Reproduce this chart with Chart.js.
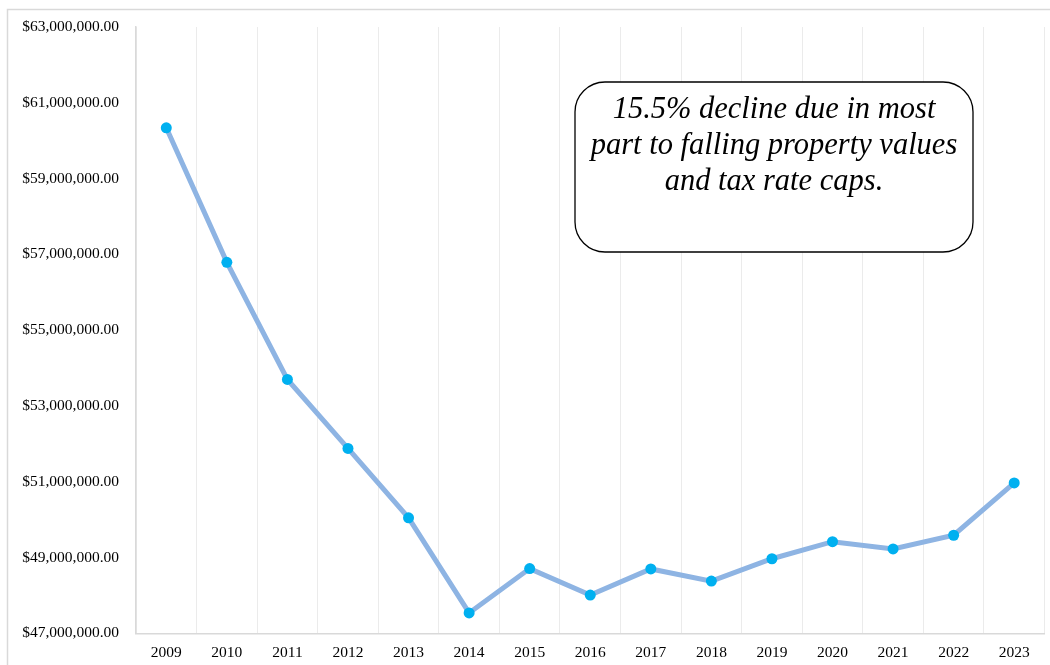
<!DOCTYPE html>
<html lang="en">
<head>
    <meta charset="UTF-8">
    <script src="https://cdn.jsdelivr.net/npm/chart.js"></script>
    <title>Revenue 2009-2023</title>
    <style>
        html, body { margin: 0; padding: 0; background: #fff; }
        .chart-container { position: relative; width: 1050px; height: 665px; }
    </style>
</head>
<body>
    <div class="chart-container">
        <canvas id="chart1"></canvas>
    </div>

    <script>
        // Data
        const years = ["2009", "2010", "2011", "2012", "2013", "2014", "2015", "2016",
                       "2017", "2018", "2019", "2020", "2021", "2022", "2023"];
        const revenue = [60340000, 56790000, 53700000, 51880000, 50050000, 47540000, 48710000, 48010000,
                         48700000, 48380000, 48970000, 49420000, 49230000, 49590000, 50970000];
        const noteLines = ["15.5% decline due in most", "part to falling property values", "and tax rate caps."];
        const yMin = 47000000, yMax = 63000000, yStep = 2000000;

        const money = v => "$" + v.toLocaleString("en-US", { minimumFractionDigits: 2, maximumFractionDigits: 2 });

        // outer frame + the rounded note box
        const extras = {
            id: "extras",
            beforeDraw(chart) {
                const ctx = chart.ctx;
                ctx.save();
                ctx.strokeStyle = "#d9d9d9";
                ctx.lineWidth = 1.5;
                ctx.strokeRect(7.5, 9.5, 1100, 700);
                ctx.restore();
            },
            afterDraw(chart) {
                const ctx = chart.ctx;
                const a = chart.chartArea;
                const x = a.left + 439, y = a.top + 55, w = 398, h = 170, r = 30;
                ctx.save();
                ctx.fillStyle = "#fff";
                ctx.strokeStyle = "#000";
                ctx.lineWidth = 1.3;
                ctx.beginPath();
                ctx.roundRect(x, y, w, h, r);
                ctx.fill();
                ctx.stroke();
                ctx.fillStyle = "#000";
                ctx.font = "italic 30.5px 'Liberation Serif', 'Times New Roman', serif";
                ctx.textAlign = "center";
                ctx.textBaseline = "middle";
                noteLines.forEach((t, i) => ctx.fillText(t, x + w / 2, y + 28 + i * 36));
                ctx.restore();
            }
        };

        Chart.defaults.font.family = "'Liberation Serif', 'Times New Roman', serif";
        Chart.defaults.font.size = 15.5;
        Chart.defaults.color = "#000";

        new Chart(document.getElementById("chart1"), {
            type: "line",
            data: {
                labels: years,
                datasets: [{
                    data: revenue,
                    borderColor: "#8eb4e3",
                    borderWidth: 5,
                    pointBackgroundColor: "#00b0f0",
                    pointBorderColor: "#00b0f0",
                    pointRadius: 5.5,
                    pointBorderWidth: 0,
                    tension: 0
                }]
            },
            options: {
                responsive: true,
                maintainAspectRatio: false,
                animation: false,
                layout: { padding: { left: 22, top: 27, right: 0, bottom: -7 } },
                plugins: {
                    legend: { display: false },
                    tooltip: { enabled: false }
                },
                scales: {
                    x: {
                        offset: true,
                        grid: { offset: true, color: "#ebebeb", drawTicks: false },
                        border: { color: "#d9d9d9", width: 1.5 },
                        ticks: { padding: 10, maxRotation: 0 }
                    },
                    y: {
                        min: yMin,
                        max: yMax,
                        afterFit(scale) { scale.width = 114; },
                        grid: { display: false, drawTicks: false },
                        border: { color: "#d9d9d9", width: 1.5 },
                        ticks: { stepSize: yStep, padding: 17, callback: v => money(v) }
                    }
                }
            },
            plugins: [extras]
        });
    </script>
</body>
</html>
